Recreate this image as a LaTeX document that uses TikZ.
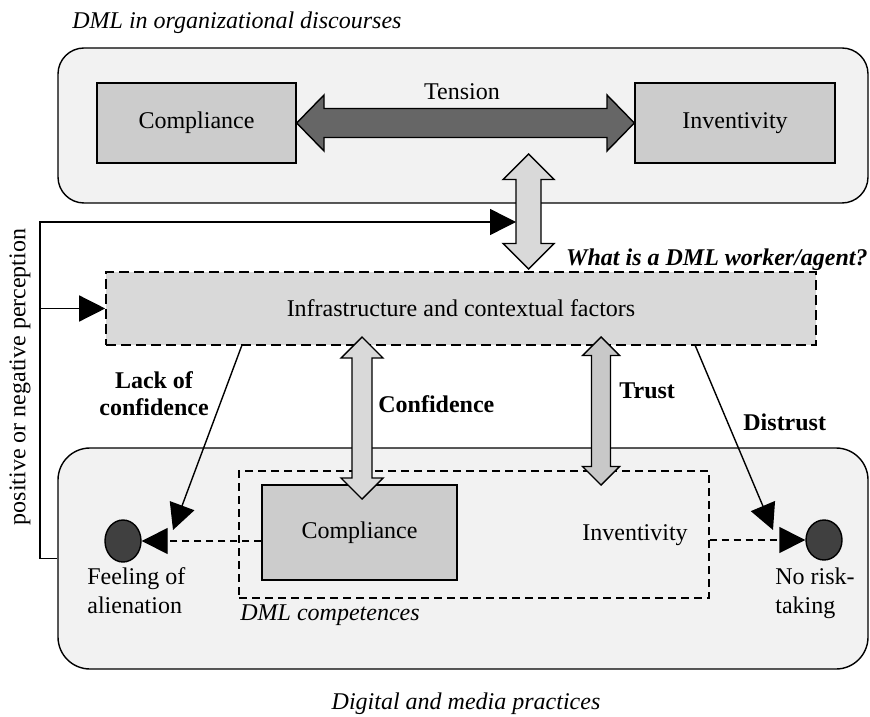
\documentclass[tikz,border=0pt]{standalone}
\usepackage{fontspec}
\setmainfont{Liberation Serif}
\usetikzlibrary{arrows.meta,shapes.geometric}

\definecolor{panelgrey}{HTML}{F2F2F2}
\definecolor{boxgrey}{HTML}{CCCCCC}
\definecolor{infragrey}{HTML}{D9D9D9}
\definecolor{tensiongrey}{HTML}{666666}
\definecolor{trustgrey}{HTML}{C8C8C8}
\definecolor{blobgrey}{HTML}{404040}

\tikzset{
  panel/.style={draw, fill=panelgrey, line width=0.7pt, inner sep=0pt},
  greybox/.style={draw, fill=boxgrey, line width=0.7pt, inner sep=0pt},
  infrabox/.style={draw, fill=infragrey, line width=0.8pt, dash pattern=on 5pt off 2.5pt, inner sep=0pt},
  dmlframe/.style={draw, line width=0.7pt, dash pattern=on 4pt off 2.5pt, inner sep=0pt},
  blob/.style={draw, ellipse, fill=blobgrey, line width=0.7pt, inner sep=0pt},
  fat/.style={draw, line width=0.7pt, line join=miter},
  link/.style={line width=0.7pt, -{Triangle[length=13pt,width=13pt]}},
  dashlink/.style={link, dash pattern=on 3.5pt off 2.5pt},
  lbl/.style={inner sep=0pt}
}

% vertical double arrow: x, y top, y bottom, half shaft, half head, fill
\newcommand{\fatv}[6]{%
  \draw[fat, fill=#6] (#1,#2) -- (#1+#5,#2+#5) -- (#1+#4,#2+#5) -- (#1+#4,#3-#5)
    -- (#1+#5,#3-#5) -- (#1,#3) -- (#1-#5,#3-#5) -- (#1-#4,#3-#5)
    -- (#1-#4,#2+#5) -- (#1-#5,#2+#5) -- cycle;}

\begin{document}
\begin{tikzpicture}[x=0.5pt,y=-0.5pt]
  \fontsize{12}{14.5}\selectfont
  \useasboundingbox (0,0) rectangle (870,716);

  % the two panels
  \node[panel, rounded corners=13pt, minimum width=405pt, minimum height=77.5pt] (orgpanel) at (463,125.5) {};
  \node[panel, rounded corners=16pt, minimum width=405pt, minimum height=110.5pt] (practpanel) at (463,558.5) {};
  \node[lbl, anchor=base west] (orgtitle) at (72,29) {\itshape DML in organizational discourses};
  \node[lbl, anchor=base] (practtitle) at (466,709) {\itshape Digital and media practices};

  % organizational discourses
  \node[greybox, minimum width=99.5pt, minimum height=40pt] (orgcomp) at (196.5,123) {Compliance};
  \node[greybox, minimum width=100pt, minimum height=40pt] (orginv) at (735,123) {Inventivity};
  \draw[fat, fill=tensiongrey] (orgcomp.east) -- (324,95) -- (324,108.5) -- (607,108.5) -- (607,95)
    -- (orginv.west) -- (607,151) -- (607,137.5) -- (324,137.5) -- (324,151) -- cycle;
  \node[lbl, anchor=base] (tension) at (462,100) {Tension};

  % infrastructure
  \node[infrabox, minimum width=355pt, minimum height=36.5pt] (infra) at (461,308.5) {Infrastructure and contextual factors};
  \node[lbl, anchor=base east] (agent) at (868,265) {\bfseries\itshape What is a DML worker/agent?};
  \fatv{528.5}{154}{269}{12.5}{25.5}{infragrey}

  % practices
  \node[dmlframe, minimum width=235pt, minimum height=63.5pt] (dml) at (474,534.5) {};
  \node[greybox, minimum width=97.5pt, minimum height=47.5pt] (comp) at (359.5,532.5) {Compliance};
  \node[lbl] (inv) at (635,535) {Inventivity};
  \node[lbl, anchor=base west] (dmltitle) at (240,620) {\itshape DML competences};
  \node[blob, minimum width=18pt, minimum height=21pt] (alien) at (123,541) {};
  \node[blob, minimum width=18pt, minimum height=20pt] (norisk) at (824,540) {};
  \node[lbl, anchor=north west, align=left] (alientext) at (87,567) {Feeling of\\alienation};
  \node[lbl, anchor=north west, align=left] (norisktext) at (775,567) {No risk-\\taking};

  \fatv{362}{337}{499}{10}{21}{infragrey}
  \fatv{601}{337}{485}{9.5}{18.5}{trustgrey}
  \node[lbl, anchor=west] (conf) at (378,404) {\bfseries Confidence};
  \node[lbl, anchor=west] (trust) at (619,391) {\bfseries Trust};
  \node[lbl, anchor=west] (distrust) at (743,422) {\bfseries Distrust};
  \node[lbl, align=center, font={\fontsize{12}{13.5}\selectfont\bfseries}] (lack) at (154,394) {Lack of\\confidence};

  % thin connectors
  \coordinate (lackstart) at (242,345);
  \coordinate (lackend) at (173,530);
  \coordinate (diststart) at (695,345);
  \coordinate (distend) at (773,530);
  \draw[link] (lackstart) -- (lackend);
  \draw[link] (diststart) -- (distend);
  \draw[dashlink] (comp.west |- alien.east) -- (alien.east);
  \draw[dashlink] (dml.east |- norisk.west) -- (norisk.west);

  % feedback loop
  \coordinate (fbcorner) at (40,558.5);
  \coordinate (fbend) at (516,222);
  \draw[link] (practpanel.west) -- (fbcorner) |- (fbend);
  \draw[link] (fbcorner |- infra.west) -- (infra.west);
  \node[lbl, rotate=90] (perception) at (20,377) {positive or negative perception};
\end{tikzpicture}
\end{document}
